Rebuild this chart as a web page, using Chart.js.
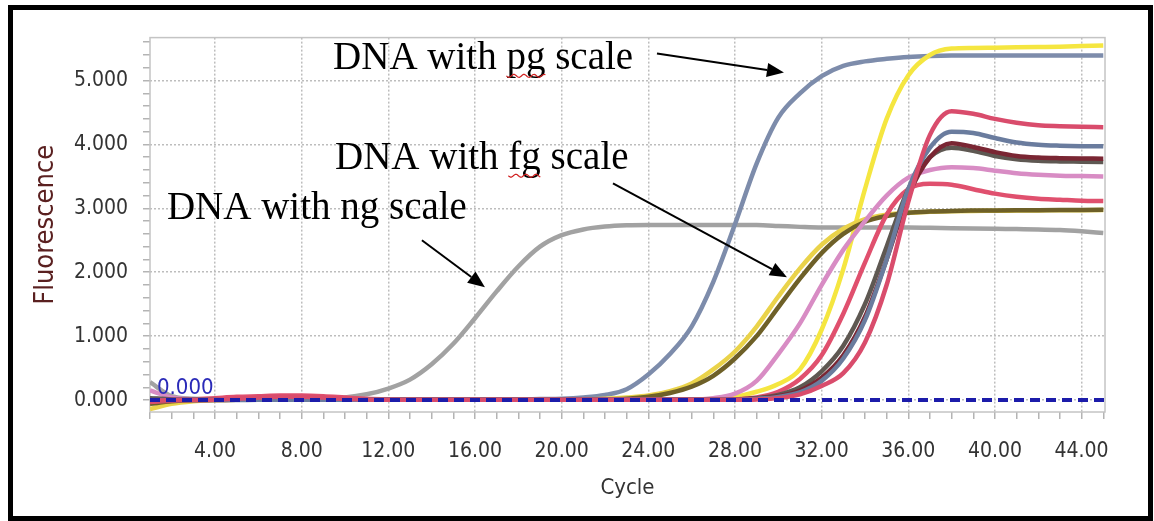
<!DOCTYPE html>
<html>
<head>
<meta charset="utf-8">
<script src="https://cdn.jsdelivr.net/npm/chart.js@4.4.1/dist/chart.umd.min.js"></script>
<style>
  html, body { margin: 0; padding: 0; background: #fff; }
  #frame { position: absolute; left: 8px; top: 5px; width: 1135px; height: 506px; border: 5px solid #000; }
  canvas { display: block; }
</style>
</head>
<body>
<div id="frame"><canvas id="pcr" width="1135" height="506"></canvas></div>
<script>
// amplification curves, one value per cycle
const cycles = [1, 2, 3, 4, 5, 6, 7, 8, 9, 10, 11, 12, 13, 14, 15, 16, 17, 18, 19, 20, 21, 22, 23,
  24, 25, 26, 27, 28, 29, 30, 31, 32, 33, 34, 35, 36, 37, 38, 39, 40, 41, 42, 43, 44, 45];

const ngScale = [280, 60, 20, 10, 10, 15, 20, 20, 25, 40, 90, 180, 320, 560, 880, 1280, 1700, 2090,
  2400, 2580, 2670, 2715, 2735, 2740, 2740, 2740, 2740, 2740, 2738, 2725, 2710, 2700, 2700, 2700,
  2700, 2700, 2695, 2690, 2685, 2680, 2675, 2670, 2660, 2640, 2615];
const pgScale = [20, 10, 5, 5, 5, 10, 10, 10, 10, 10, 10, 10, 10, 10, 10, 10, 10, 10, 15, 20,
  40, 80, 170, 400, 720, 1150, 1850, 2750, 3700, 4420, 4800, 5070, 5230, 5300, 5340,
  5370, 5385, 5390, 5390, 5390, 5390, 5390, 5390, 5390, 5390];
const yellowTop = [-40, -10, 0, 0, 5, 5, 5, 5, 5, 5, 5, 5, 5, 5, 5, 5, 5, 5, 5, 5, 5, 5, 5, 5, 5,
  5, 20, 50, 130, 250, 480, 1100, 2050, 3300, 4400, 5080, 5400, 5500, 5510, 5515,
  5520, 5525, 5530, 5540, 5550];
const fgYellow = [-140, -60, -20, 0, 5, 10, 10, 10, 5, 5, 5, 5, 5, 5, 5, 5, 5, 5, 5, 5,
  10, 20, 40, 70, 140, 260, 480, 760, 1150, 1620, 2060, 2430, 2680, 2830, 2900,
  2930, 2945, 2955, 2960, 2962, 2965, 2968, 2970, 2972, 2975];
const fgOlive = [-60, -20, 0, 5, 5, 10, 10, 10, 10, 5, 5, 5, 5, 5, 5, 5, 5, 5, 5, 5,
  5, 10, 20, 50, 110, 210, 380, 650, 1000, 1450, 1900, 2300, 2600, 2790, 2880,
  2930, 2950, 2960, 2965, 2968, 2970, 2972, 2974, 2976, 2978];
const pink = [150, 40, 10, 5, 5, 5, 5, 5, 5, 5, 5, 5, 5, 5, 5, 5, 5, 5, 5, 5, 5, 5, 5, 5, 10,
  10, 30, 100, 300, 720, 1200, 1800, 2350, 2800, 3200, 3480, 3600, 3645, 3630, 3590,
  3550, 3525, 3510, 3505, 3500];
const redLow = [-30, -10, 10, 30, 50, 60, 70, 70, 60, 40, 20, 10, 5, 5, 5, 5, 5, 5, 5, 5,
  5, 5, 5, 5, 5, 5, 5, 10, 40, 130, 330, 700, 1350, 2150, 2900, 3300, 3385, 3370, 3300, 3230,
  3180, 3150, 3135, 3120, 3115];
const darkGray = [30, 10, 5, 5, 5, 5, 5, 5, 5, 5, 5, 5, 5, 5, 5, 5, 5, 5, 5, 5, 5, 5, 5, 5, 5,
  5, 5, 10, 30, 80, 200, 450, 850, 1500, 2400, 3300, 3800, 3950, 3900, 3820,
  3770, 3745, 3735, 3730, 3725];
const darkRed = [0, 0, 0, 0, 5, 5, 5, 5, 5, 5, 5, 5, 5, 5, 5, 5, 5, 5, 5, 5, 5, 5, 5, 5, 5,
  5, 5, 10, 25, 60, 150, 350, 700, 1300, 2200, 3200, 3800, 4020, 3960, 3880,
  3820, 3795, 3785, 3780, 3778];
const blue2 = [0, 0, 0, 0, 0, 5, 5, 5, 5, 5, 5, 5, 5, 5, 5, 5, 5, 5, 5, 5, 5, 5, 5, 5, 5,
  5, 5, 5, 20, 50, 120, 300, 650, 1250, 2200, 3300, 3950, 4200, 4180, 4100,
  4030, 3995, 3980, 3972, 3970];
const redTop = [-20, 0, 0, 5, 20, 40, 50, 50, 40, 20, 10, 5, 5, 5, 5, 5, 5, 5, 5, 5, 5, 5, 5, 5, 5,
  5, 5, 5, 10, 30, 90, 220, 420, 900, 1800, 3100, 4150, 4520, 4480, 4400,
  4340, 4300, 4285, 4275, 4270];

const threshold = 0;

const xMajorTicks = [4, 8, 12, 16, 20, 24, 28, 32, 36, 40, 44];
const yMajorTicks = [0, 1000, 2000, 3000, 4000, 5000];
const yMinorTicks = [0, 200, 400, 600, 800, 1000, 1200, 1400, 1600, 1800, 2000, 2200, 2400, 2600,
  2800, 3000, 3200, 3400, 3600, 3800, 4000, 4200, 4400, 4600, 4800, 5000, 5200, 5400, 5600];

// annotations: text anchor and arrow in data units (cycle, fluorescence)
const notes = [
  { text: 'DNA with pg scale', word: 'pg', at: [9.45, 5183], from: [24.40, 5422], to: [30.26, 5125] },
  { text: 'DNA with fg scale', word: 'fg', at: [9.54, 3620], from: [22.37, 3391], to: [30.40, 1922] },
  { text: 'DNA with ng scale', word: null, at: [1.78, 2839], from: [13.55, 2500], to: [16.46, 1766] }
];

const sansFont = "'DejaVu Sans Condensed', 'DejaVu Sans', sans-serif";

function curve(values, color, order) {
  return {
    data: cycles.map((c, i) => ({ x: c, y: values[i] })),
    borderColor: color,
    borderWidth: 4.5,
    pointRadius: 0,
    cubicInterpolationMode: 'monotone',
    order: order
  };
}

const annotate = {
  id: 'annotate',
  beforeDatasetsDraw(chart) {
    const { ctx, chartArea: a } = chart;
    ctx.save();
    ctx.strokeStyle = '#c4c4c4';
    ctx.lineWidth = 1.5;
    ctx.strokeRect(a.left, a.top, a.right - a.left, a.bottom - a.top);
    ctx.restore();
  },
  afterDatasetsDraw(chart) {
    const { ctx, chartArea: a } = chart;
    const xs = chart.scales.x, ys = chart.scales.y;
    ctx.save();
    // threshold label
    ctx.font = '22px ' + sansFont;
    ctx.fillStyle = '#2a2ab8';
    ctx.textBaseline = 'alphabetic';
    ctx.fillText('0.000', a.left + 7, ys.getPixelForValue(threshold) - 6);

    ctx.font = "39px 'Liberation Serif', 'Times New Roman', serif";
    notes.forEach(n => {
      const tx = xs.getPixelForValue(n.at[0]);
      const ty = ys.getPixelForValue(n.at[1]);
      ctx.fillStyle = '#000';
      ctx.fillText(n.text, tx, ty);
      if (n.word) {
        const start = tx + ctx.measureText(n.text.slice(0, n.text.indexOf(n.word))).width;
        const w = ctx.measureText(n.word).width;
        ctx.beginPath();
        ctx.strokeStyle = '#d02020';
        ctx.lineWidth = 1.2;
        for (let px = 0; px <= w; px += 1) {
          const py = ty + 7 + Math.sin(px / 1.6) * 1.5;
          if (px === 0) ctx.moveTo(start + px, py); else ctx.lineTo(start + px, py);
        }
        ctx.stroke();
      }
      // arrow
      const x1 = xs.getPixelForValue(n.from[0]), y1 = ys.getPixelForValue(n.from[1]);
      const x2 = xs.getPixelForValue(n.to[0]), y2 = ys.getPixelForValue(n.to[1]);
      const ang = Math.atan2(y2 - y1, x2 - x1);
      const len = 17, half = 7;
      const bx = x2 - len * Math.cos(ang), by = y2 - len * Math.sin(ang);
      ctx.beginPath();
      ctx.strokeStyle = '#000';
      ctx.lineWidth = 2;
      ctx.moveTo(x1, y1);
      ctx.lineTo(bx, by);
      ctx.stroke();
      ctx.beginPath();
      ctx.fillStyle = '#000';
      ctx.moveTo(x2, y2);
      ctx.lineTo(bx + half * Math.sin(ang), by - half * Math.cos(ang));
      ctx.lineTo(bx - half * Math.sin(ang), by + half * Math.cos(ang));
      ctx.closePath();
      ctx.fill();
    });
    ctx.restore();
  }
};

new Chart(document.getElementById('pcr'), {
  type: 'line',
  data: {
    datasets: [
      {
        data: [{ x: 1, y: threshold }, { x: 45.08, y: threshold }],
        borderColor: '#1c1caa',
        borderWidth: 4,
        borderDash: [10, 6],
        pointRadius: 0,
        order: 0
      },
      curve(redTop, '#d94c6c', 1),
      curve(blue2, '#6a7c9e', 2),
      curve(darkRed, '#7a2633', 3),
      curve(darkGray, '#5e5852', 4),
      curve(pink, '#d88cc4', 5),
      curve(redLow, '#e0506e', 6),
      curve(fgOlive, '#6e6028', 7),
      curve(fgYellow, '#ead34a', 8),
      curve(yellowTop, '#f5e640', 9),
      curve(pgScale, '#7d8cab', 10),
      curve(ngScale, '#a2a2a2', 11)
    ]
  },
  options: {
    responsive: false,
    animation: false,
    events: [],
    layout: { padding: { top: 27, right: 43, left: 0, bottom: 0 } },
    plugins: {
      legend: { display: false },
      tooltip: { enabled: false }
    },
    scales: {
      x: {
        type: 'linear',
        min: 1,
        max: 45.08,
        afterBuildTicks: axis => { axis.ticks = cycles.map(v => ({ value: v })); },
        afterFit: axis => { axis.height = 104; },
        ticks: {
          autoSkip: false,
          maxRotation: 0,
          padding: 20,
          color: '#333',
          font: { family: sansFont, size: 21 },
          callback: v => xMajorTicks.includes(v) ? v.toFixed(2) : ''
        },
        grid: {
          color: c => xMajorTicks.includes(c.tick && c.tick.value) ? '#bdbdbd' : 'rgba(0,0,0,0)',
          lineWidth: 1.5,
          tickColor: '#b4b4b4',
          tickLength: 7,
          tickBorderDash: []
        },
        border: { display: false, dash: [2, 2] },
        title: {
          display: true,
          text: 'Cycle',
          color: '#333',
          font: { family: sansFont, size: 22 },
          padding: { bottom: 15 }
        }
      },
      y: {
        min: -187,
        max: 5672,
        afterBuildTicks: axis => { axis.ticks = yMinorTicks.map(v => ({ value: v })); },
        afterFit: axis => { axis.width = 137; },
        ticks: {
          autoSkip: false,
          padding: 15,
          color: '#333',
          font: { family: sansFont, size: 21 },
          callback: v => yMajorTicks.includes(v) ? (v / 1000).toFixed(3) : ''
        },
        grid: {
          color: c => yMajorTicks.includes(c.tick && c.tick.value) ? '#bdbdbd' : 'rgba(0,0,0,0)',
          lineWidth: 1.5,
          tickColor: '#b4b4b4',
          tickLength: 7,
          tickBorderDash: []
        },
        border: { display: false, dash: [2, 2] },
        title: {
          display: true,
          text: 'Fluorescence',
          color: '#5a2020',
          font: { family: sansFont, size: 27 },
          padding: { top: 17 }
        }
      }
    }
  },
  plugins: [annotate]
});
</script>
</body>
</html>
